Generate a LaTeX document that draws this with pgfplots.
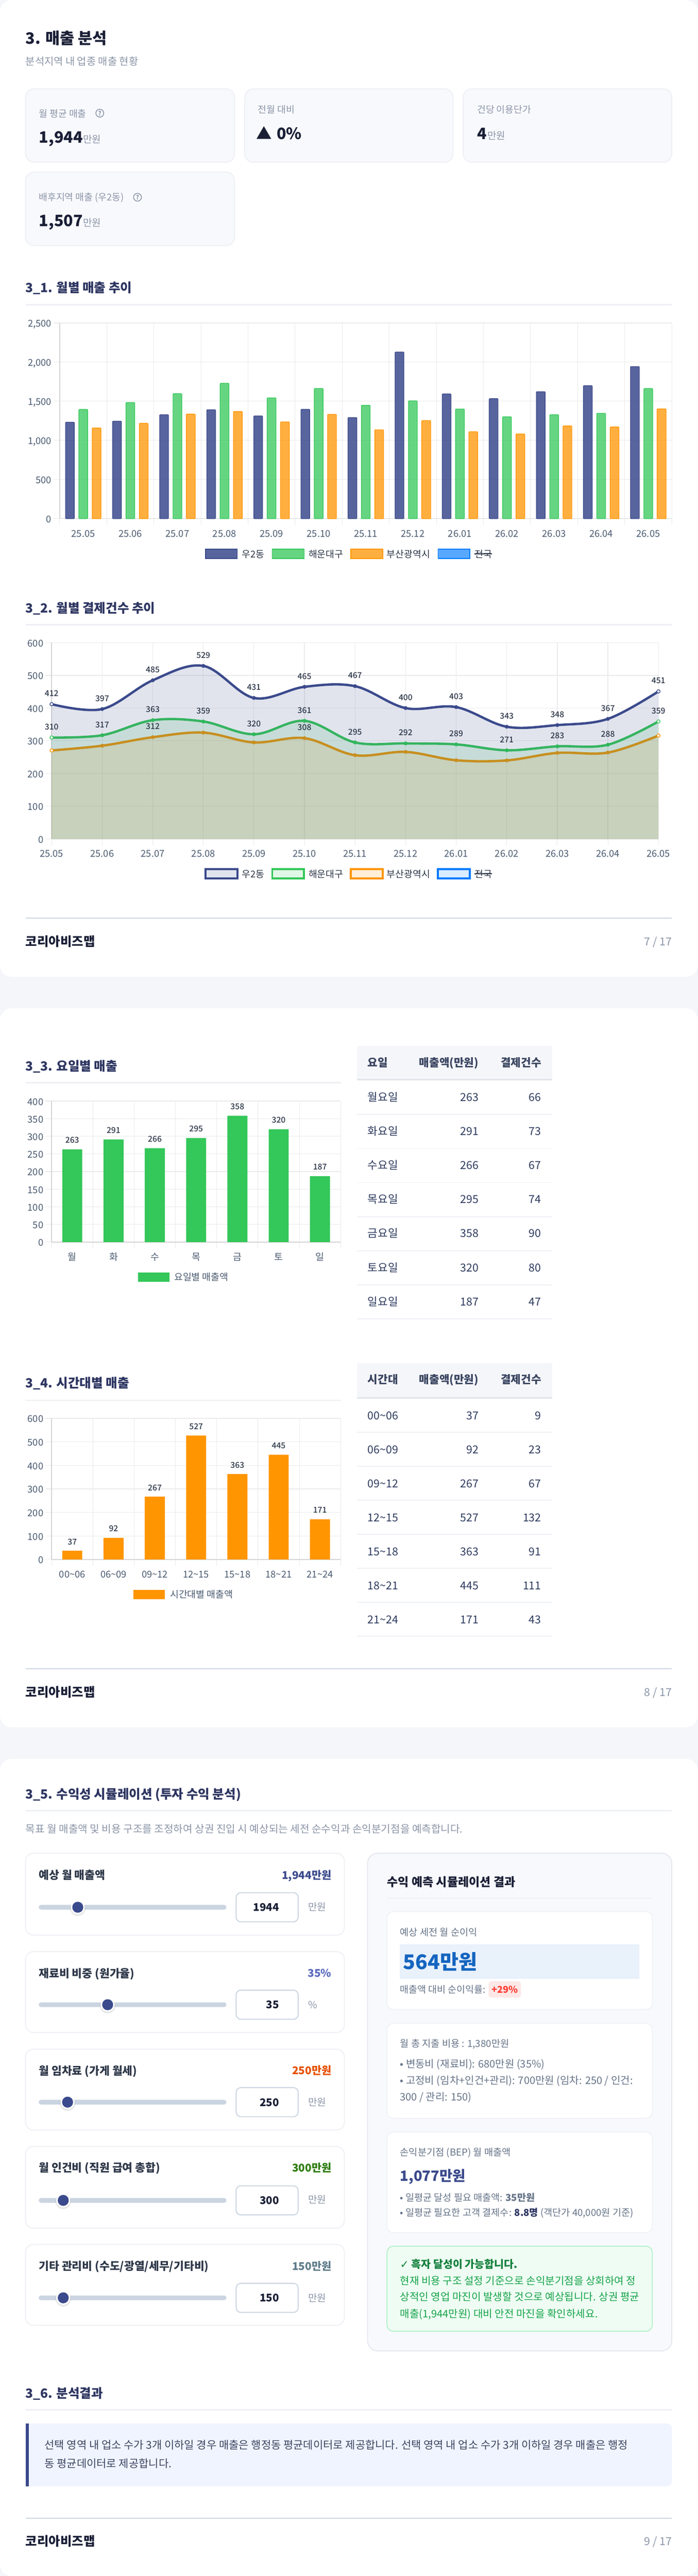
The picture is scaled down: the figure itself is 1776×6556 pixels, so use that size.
\documentclass[border=0pt]{standalone}
\usepackage{fontspec}
\usepackage{pgfplots}
\usepackage{pgfplotstable}
\pgfplotsset{compat=1.18}
\setmainfont{Noto Sans CJK KR}
\newfontfamily\med{Noto Sans CJK KR Medium}
\newfontfamily\dejavu{DejaVu Sans}
\definecolor{pagebg}{HTML}{F5F6FA}
\definecolor{cardbg}{HTML}{F8F9FD}
\definecolor{cardln}{HTML}{EEF0F5}
\definecolor{main}{HTML}{1A1F36}
\definecolor{sect}{HTML}{2D3561}
\definecolor{sub}{HTML}{8B95A7}
\definecolor{tickc}{HTML}{4A5A70}
\definecolor{gridc}{HTML}{EBEBED}
\definecolor{axc}{HTML}{D6D6D8}
\definecolor{dk}{HTML}{3B4A8C}
\definecolor{gr}{HTML}{34C759}
\definecolor{or}{HTML}{FF9500}
\definecolor{bl}{HTML}{007AFF}
\definecolor{grm}{HTML}{30B85C}
\definecolor{orm}{HTML}{C98F20}
\definecolor{lab}{HTML}{2D3748}
\definecolor{footln}{HTML}{CFD6E4}
\definecolor{track}{HTML}{CBD5E1}
\definecolor{rowtx}{HTML}{2D3A5E}
\definecolor{hdr}{HTML}{3A4560}
\definecolor{gray2}{HTML}{667488}
\definecolor{hibox}{HTML}{E9F1FB}
\definecolor{blue5}{HTML}{1565C0}
\definecolor{redbg}{HTML}{FDE8E8}
\definecolor{redt}{HTML}{FF3B30}
\definecolor{grbg}{HTML}{EEFCF3}
\definecolor{grln}{HTML}{A9EFC3}
\definecolor{grtt}{HTML}{15803D}
\definecolor{grtx}{HTML}{16A34A}
\definecolor{notebg}{HTML}{F0F4FF}
\definecolor{notetx}{HTML}{3B4560}
\newcommand\fsz[1]{\pgfmathsetmacro\tmpfs{#1*0.5}\fontsize{\tmpfs}{\tmpfs}\selectfont}
% x, centre y, size (px), colour, text
\newcommand\TL[5]{\node[anchor=base west,inner sep=0pt,text=#4,font=\fsz{#3}] at ({#1},{#2+0.38*#3}) {#5};}
\newcommand\TR[5]{\node[anchor=base east,inner sep=0pt,text=#4,font=\fsz{#3}] at ({#1},{#2+0.38*#3}) {#5};}
\newcommand\TC[5]{\node[anchor=base,inner sep=0pt,text=#4,font=\fsz{#3}] at ({#1},{#2+0.38*#3}) {#5};}
% x1 y1 x2 y2 radius fill draw lw(px)
\newcommand\card[8]{\draw[rounded corners=#5*0.5pt,fill=#6,draw=#7,line width=#8*0.5pt] (#1,#2) rectangle (#3,#4);}
\newcommand\stitle[3]{\TL{64.5}{#1}{32.2}{sect}{\bfseries #3}\draw[cardln,line width=2pt] (65,#2) -- (1710,#2);}
\newcommand\stitleS[3]{\TL{64.5}{#1}{32.2}{sect}{\bfseries #3}\draw[cardln,line width=1.5pt] (65,#2) -- (867.5,#2);}
\newcommand\footer[3]{\draw[footln,line width=1.2pt] (65,#1) -- (1710,#1);\TL{65}{#2}{32}{main}{\bfseries 코리아비즈맵}\TR{1710}{#2}{28}{sub}{#3}}
\newcommand\qicon[2]{\draw[sub,line width=1pt] (#1,#2) circle [radius=5pt];\node[text=sub,font=\fsz{15}\bfseries,inner sep=0pt] at (#1,#2) {?};}
% slider: card top, card bottom, label y, label, colour, value, track y, thumb x, box text
\newcommand\slider[9]{%
 \card{65}{#1}{876.5}{#2}{20}{white}{cardln}{2.5}
 \TL{98.5}{#3}{28.3}{lab}{\bfseries #4}
 \TR{844}{#3}{27.3}{#5}{\bfseries #6}
 \fill[track,rounded corners=3pt] (98.5,#7-6) rectangle (576.5,#7+6);
 \fill[black,opacity=.05] (#8,#7+3) circle [radius=10pt];
 \fill[black,opacity=.06] (#8,#7+2) circle [radius=9.4pt];
 \fill[white] (#8,#7) circle [radius=9pt];
 \fill[dk] (#8,#7) circle [radius=7pt];
 \card{601}{#7-37}{759}{#7+37}{12}{white}{track}{2.5}
 \TR{711}{#7}{27}{main}{\bfseries #9}
}
\pgfplotsset{
 rk/.style={scale only axis,clip=false,
  axis lines*=left,axis line style={-,draw=axc,line width=1pt},
  /pgf/number format/assume math mode=true,/pgf/number format/1000 sep={,},
  scaled y ticks=false,
  tick align=outside,major tick length=8pt,minor tick length=8pt,
  ymajorgrids,grid style={draw=gridc,line width=.8pt},
  ytick style={draw=gridc,line width=.8pt},
  tick label style={font=\fsz{24},text=tickc},
  yticklabel style={anchor=base east,inner sep=0pt,xshift=-2.3pt,yshift=-5.25pt},
 },
 cat/.style={rk,ybar,xmin=0,xmax=#1,enlarge x limits=false,
  xtick style={draw=none},
  minor xtick={0,...,#1},xminorgrids,minor grid style={draw=gridc,line width=.6pt},
  minor x tick style={draw=gridc,line width=.6pt},
  xticklabel style={anchor=base,inner sep=0pt,yshift=-15.3pt},
 },
 nnc/.style={nodes near coords,point meta=y,nodes near coords style={anchor=center,inner sep=0pt,font=\fsz{20.5}\med,text=lab,yshift=#1}},
}
\pgfplotstableread{
x dark green orange
0 412 310 270.5
1 397 317 285
2 485 363 311
3 529 359 325
4 431 320 295
5 465 361 308
6 467 295 256
7 400 292 266
8 403 289 240.5
9 343 271 240
10 348 283 263
11 367 288 264
12 451 359 316
}\cntdata
\pgfplotstableread{
x dark green orange
0.5 1233 1395 1159
1.5 1246 1484 1218
2.5 1328 1597 1336
3.5 1392 1730 1369
4.5 1313 1543 1236
5.5 1397 1663 1333
6.5 1292 1448 1136
7.5 2129 1505 1254
8.5 1594 1400 1111
9.5 1533 1302 1082
10.5 1622 1328 1185
11.5 1699 1346 1172
12.5 1944 1663 1402
}\saledata
\begin{document}
\begin{tikzpicture}[x=0.5pt,y=-0.5pt]
\fill[pagebg] (0,0) rectangle (1776,6556);
\useasboundingbox (0,0) rectangle (1776,6556);
\fill[white,rounded corners=15pt] (0,0) rectangle (1776,2486);
\fill[white,rounded corners=15pt] (0,2566) rectangle (1776,4396);
\fill[white,rounded corners=15pt] (0,4476) rectangle (1776,6556);
%% ---- header & KPI
\TL{65}{97}{40}{main}{\bfseries 3. 매출 분석}
\TL{65}{156}{26}{sub}{분석지역 내 업종 매출 현황}
\card{65}{226}{597}{413}{22}{cardbg}{cardln}{2.5}
\card{623}{226}{1153}{413}{22}{cardbg}{cardln}{2.5}
\card{1179}{226}{1710}{413}{22}{cardbg}{cardln}{2.5}
\card{65}{438}{597}{625}{22}{cardbg}{cardln}{2.5}
\TL{98.5}{289}{24}{sub}{월 평균 매출}\qicon{254}{288}
\node[anchor=base west,inner sep=0pt,text=main,font=\fsz{40}\bfseries] at (99,364) {1,944};
\node[anchor=base west,inner sep=0pt,text=sub,font=\fsz{25}] at (211,364) {만원};
\TL{656}{279}{24}{sub}{전월 대비}
\node[anchor=base west,inner sep=0pt,text=main,font=\fsz{40}\bfseries] at (652,355) {▲};
\node[anchor=base west,inner sep=0pt,text=main,font=\fsz{40}\bfseries] at (704,355) {0\%};
\TL{1214}{279}{24}{sub}{건당 이용단가}
\node[anchor=base west,inner sep=0pt,text=main,font=\fsz{40}\bfseries] at (1214,355) {4};
\node[anchor=base west,inner sep=0pt,text=sub,font=\fsz{25}] at (1240,355) {만원};
\TL{98.5}{501}{24}{sub}{배후지역 매출 (우2동)}\qicon{350}{502}
\node[anchor=base west,inner sep=0pt,text=main,font=\fsz{40}\bfseries] at (99,576) {1,507};
\node[anchor=base west,inner sep=0pt,text=sub,font=\fsz{25}] at (211,576) {만원};
%% ---- 3_1
\stitle{732.5}{775.5}{3\_1. 월별 매출 추이}
\begin{axis}[cat=13,at={(76pt,-660pt)},anchor=south west,width=779pt,height=249pt,
  ymin=0,ymax=2500,ytick={0,500,1000,1500,2000,2500},
  xtick={0.5,1.5,...,12.5},xticklabels={25.05,25.06,25.07,25.08,25.09,25.10,25.11,25.12,26.01,26.02,26.03,26.04,26.05},
  bar width=11.2pt]
\addplot[/pgf/bar shift=-17pt,draw=dk,fill=dk,fill opacity=.85,line width=.8pt,rounded corners=.7pt] table[x=x,y=dark]{\saledata};
\addplot[/pgf/bar shift=0pt,draw=gr,fill=gr,fill opacity=.75,line width=.8pt,rounded corners=.7pt] table[x=x,y=green]{\saledata};
\addplot[/pgf/bar shift=17pt,draw=or,fill=or,fill opacity=.75,line width=.8pt,rounded corners=.7pt] table[x=x,y=orange]{\saledata};
\end{axis}
\newcommand\lgdtxt[1]{%
 \TL{615}{#1}{24}{lab}{우2동}\TL{785}{#1}{24}{lab}{해운대구}\TL{984}{#1}{24}{lab}{부산광역시}\TL{1208}{#1}{24}{lab}{전국}
 \draw[lab,line width=1.2pt] (1208,#1) -- (1252,#1);}
\foreach \xa/\xb/\c/\o in {523/604/dk/.85,693/774/gr/.75,893/974/or/.75,1115/1196/bl/.65}{
 \draw[\c,line width=1pt,fill=\c,fill opacity=\o] (\xa,1398) rectangle (\xb,1421);}
\lgdtxt{1410}
%% ---- 3_2
\stitle{1548}{1590}{3\_2. 월별 결제건수 추이}
\begin{axis}[rk,at={(65.7pt,-1067.5pt)},anchor=south west,width=772.3pt,height=249.7pt,
  xmin=0,xmax=12,ymin=0,ymax=600,ytick={0,100,...,600},xtick={0,...,12},
  xmajorgrids,xtick style={draw=gridc,line width=.6pt},
  xticklabels={25.05,25.06,25.07,25.08,25.09,25.10,25.11,25.12,26.01,26.02,26.03,26.04,26.05},
  xticklabel style={anchor=base,inner sep=0pt,yshift=-15.3pt},
  every axis plot/.append style={tension=.58}]
% areas and lines: last series below, first series on top
\addplot[smooth,draw=none,fill=or,fill opacity=.15] table[x=x,y=orange]{\cntdata} \closedcycle;
\addplot[smooth,or,line width=3pt,mark=*,mark size=2.2pt,mark options={draw=orm,fill=orm,line width=.5pt}] table[x=x,y=orange]{\cntdata};
\addplot[smooth,draw=none,fill=gr,fill opacity=.15] table[x=x,y=green]{\cntdata} \closedcycle;
\addplot[smooth,gr,line width=3pt,mark=*,mark size=2.2pt,mark options={draw=grm,fill=grm,line width=.5pt}] table[x=x,y=green]{\cntdata};
\addplot[smooth,draw=none,fill=dk,fill opacity=.15] table[x=x,y=dark]{\cntdata} \closedcycle;
\addplot[smooth,dk,line width=3pt,mark=*,mark size=2.2pt,mark options={draw=dk,fill=dk,line width=.5pt}] table[x=x,y=dark]{\cntdata};
% hollow end points
\addplot[only marks,mark=*,mark size=2.1pt,mark options={draw=or,fill=white,line width=.8pt}] coordinates {(0,270.5)(12,316)};
\addplot[only marks,mark=*,mark size=2.1pt,mark options={draw=gr,fill=white,line width=.8pt}] coordinates {(0,310)(12,359)};
\addplot[only marks,mark=*,mark size=2.1pt,mark options={draw=dk,fill=white,line width=.8pt}] coordinates {(0,412)(12,451)};
% data labels
\addplot[draw=none,no marks,nnc=13.5pt] table[x=x,y=dark]{\cntdata};
\addplot[draw=none,no marks,nnc=13.5pt] table[x=x,y=green]{\cntdata};
\addplot[draw=none,no marks,nnc=13.5pt] coordinates {(2,312)(5,308)};
\end{axis}
\foreach \xa/\xb/\c in {523/604/dk,693/774/gr,893/974/or,1115/1196/bl}{
 \draw[\c,line width=2.5pt,fill=\c,fill opacity=.15] (\xa,2212) rectangle (\xb,2236);}
\lgdtxt{2224}
\footer{2336.5}{2396}{7 / 17}
%% ---- 3_3
\stitleS{2712.5}{2755.5}{3\_3. 요일별 매출}
\begin{axis}[cat=7,at={(65.7pt,-1580.5pt)},anchor=south west,width=367.8pt,height=179.5pt,
  ymin=0,ymax=400,ytick={0,50,...,400},
  xtick={0.5,1.5,...,6.5},xticklabels={월,화,수,목,금,토,일},bar width=25.5pt]
\addplot[draw=none,fill=gr,nnc=11.5pt] coordinates {(0.5,263)(1.5,291)(2.5,266)(3.5,295)(4.5,358)(5.5,320)(6.5,187)};
\end{axis}
\fill[gr] (351,3238) rectangle (431.5,3262);
\TL{443}{3250}{24}{tickc}{요일별 매출액}
\fill[pagebg] (908,2662) rectangle (1405.5,2746);
\fill[cardln!60!track] (908,2746) rectangle (1405.5,2750);
\TL{935.5}{2704}{28}{hdr}{\bfseries 요일}
\TR{1218.6}{2704}{28}{hdr}{\bfseries 매출액(만원)}
\TR{1378}{2704}{28}{hdr}{\bfseries 결제건수}
\foreach \a/\b/\c [count=\i from 0] in {월요일/263/66,화요일/291/73,수요일/266/67,목요일/295/74,금요일/358/90,토요일/320/80,일요일/187/47}{
 \pgfmathsetmacro\yy{2792+86.7*\i}
 \pgfmathsetmacro\rr{2836.5+86.7*\i}
 \TL{935.5}{\yy}{28}{rowtx}{\a}
 \TR{1218.6}{\yy}{28}{rowtx}{\b}
 \TR{1378}{\yy}{28}{rowtx}{\c}
 \draw[cardln,line width=1.2pt] (908,\rr) -- (1405.5,\rr);
}
%% ---- 3_4
\stitleS{3520}{3564}{3\_4. 시간대별 매출}
\begin{axis}[cat=7,at={(65.7pt,-1984.4pt)},anchor=south west,width=367.8pt,height=179.6pt,
  ymin=0,ymax=600,ytick={0,100,...,600},
  xtick={0.5,1.5,...,6.5},
  xticklabels={00\textasciitilde06,06\textasciitilde09,09\textasciitilde12,12\textasciitilde15,15\textasciitilde18,18\textasciitilde21,21\textasciitilde24},bar width=25.5pt]
\addplot[draw=none,fill=or,nnc=11.5pt] coordinates {(0.5,37)(1.5,92)(2.5,267)(3.5,527)(4.5,363)(5.5,445)(6.5,171)};
\end{axis}
\fill[or] (340,4046) rectangle (420,4070.5);
\TL{432.6}{4058}{24}{tickc}{시간대별 매출액}
\fill[pagebg] (908,3470) rectangle (1405.5,3556);
\fill[cardln!60!track] (908,3556) rectangle (1405.5,3560);
\TL{935.5}{3511}{28}{hdr}{\bfseries 시간대}
\TR{1218.6}{3511}{28}{hdr}{\bfseries 매출액(만원)}
\TR{1378}{3511}{28}{hdr}{\bfseries 결제건수}
\foreach \a/\b/\c [count=\i from 0] in {00\textasciitilde06/37/9,06\textasciitilde09/92/23,09\textasciitilde12/267/67,12\textasciitilde15/527/132,15\textasciitilde18/363/91,18\textasciitilde21/445/111,21\textasciitilde24/171/43}{
 \pgfmathsetmacro\yy{3602.5+86.5*\i}
 \pgfmathsetmacro\rr{3645+86.5*\i}
 \TL{935.5}{\yy}{28}{rowtx}{\a}
 \TR{1218.6}{\yy}{28}{rowtx}{\b}
 \TR{1378}{\yy}{28}{rowtx}{\c}
 \draw[cardln,line width=1pt] (908,\rr) -- (1405.5,\rr);
}
\footer{4247}{4306}{8 / 17}
%% ---- 3_5
\stitle{4566}{4608}{3\_5. 수익성 시뮬레이션 (투자 수익 분석)}
\TL{65}{4654}{26.46}{sub}{목표 월 매출액 및 비용 구조를 조정하여 상권 진입 시 예상되는 세전 순수익과 손익분기점을 예측합니다.}
\definecolor{vb}{HTML}{5C6BC0}\definecolor{vo}{HTML}{E65100}\definecolor{vg}{HTML}{2E7D10}\definecolor{vs}{HTML}{607D8B}
\slider{4716.5}{4925}{4772}{예상 월 매출액}{dk}{1,944만원}{4854}{198}{1944}
\TL{784}{4852.6}{25}{sub}{만원}
\slider{4967}{5172.6}{5021.8}{재료비 비중 (원가율)}{vb}{35\%}{5102}{274}{35}
\TL{784}{5102}{25}{sub}{\%}
\slider{5215}{5421}{5269.5}{월 임차료 (가게 월세)}{vo}{250만원}{5350}{172}{250}
\TL{784}{5350}{25}{sub}{만원}
\slider{5462.7}{5670.8}{5517}{월 인건비 (직원 급여 총합)}{vg}{300만원}{5600}{161}{300}
\TL{784}{5598}{25}{sub}{만원}
\slider{5712}{5918}{5767.4}{기타 관리비 (수도/광열/세무/기타비)}{vs}{150만원}{5848}{161}{150}
\TL{784}{5848}{25}{sub}{만원}
% right panel
\card{935.5}{4716.5}{1710}{5983}{26}{cardbg}{cardln!70!track}{2.5}
\TL{985}{4788.8}{30.2}{main}{\bfseries 수익 예측 시뮬레이션 결과}
\draw[cardln!70!track,line width=1.2pt] (985,4831) -- (1660.5,4831);
\card{985}{4865}{1660.5}{5114}{16}{white}{cardln}{2}
\TL{1018}{4917}{24.5}{gray2}{예상 세전 월 순이익}
\fill[hibox] (1018,4948) rectangle (1627.5,5036.5);
\TL{1026}{4993}{51.4}{blue5}{\bfseries 564만원}
\TL{1018}{5063}{24.2}{gray2}{매출액 대비 순이익률:}
\fill[redbg,rounded corners=4pt] (1243.5,5042) rectangle (1326,5084);
\TC{1284.7}{5063}{24}{redt}{\bfseries +29\%}
\card{985}{5149.5}{1660.5}{5391}{16}{white}{cardln}{2}
\TL{1018}{5201}{24.5}{gray2}{월 총 지출 비용 : 1,380만원}
\TL{1018}{5252.6}{26.3}{gray2}{• 변동비 (재료비): 680만원 (35\%)}
\TL{1018}{5294.7}{26.3}{gray2}{• 고정비 (임차+인건+관리): 700만원 (임차: 250 / 인건:}
\TL{1018}{5336.8}{26.3}{gray2}{300 / 관리: 150)}
\card{985}{5426}{1660.5}{5682}{16}{white}{cardln}{2}
\TL{1018}{5476.8}{24.5}{gray2}{손익분기점 (BEP) 월 매출액}
\TL{1018}{5537.5}{36}{dk}{\bfseries 1,077만원}
\TL{1018}{5593}{24.4}{gray2}{• 일평균 달성 필요 매출액: \textbf{35만원}}
\TL{1018}{5631}{24.4}{gray2}{• 일평균 필요한 고객 결제수: \textcolor{sect}{\textbf{8.8명}} (객단가 40,000원 기준)}
\card{985}{5716.6}{1660.5}{5933}{16}{grbg}{grln}{2}
\TL{1018}{5762.5}{27}{grtt}{\bfseries {\dejavu ✓} 흑자 달성이 가능합니다.}
\TL{1018}{5804}{26.4}{grtx}{현재 비용 구조 설정 기준으로 손익분기점을 상회하여 정}
\TL{1018}{5845.7}{26.4}{grtx}{상적인 영업 마진이 발생할 것으로 예상됩니다. 상권 평균}
\TL{1018}{5888}{26.4}{grtx}{매출(1,944만원) 대비 안전 마진을 확인하세요.}
%% ---- 3_6
\stitle{6090.5}{6133.5}{3\_6. 분석결과}
\fill[notebg,rounded corners=6pt] (65,6168) rectangle (1710,6327.5);
\fill[notebg] (65,6168) rectangle (90,6327.5);
\fill[dk] (65,6168) rectangle (73,6327.5);
\TL{113}{6221.7}{27.5}{notetx}{선택 영역 내 업소 수가 3개 이하일 경우 매출은 행정동 평균데이터로 제공합니다. 선택 영역 내 업소 수가 3개 이하일 경우 매출은 행정}
\TL{113}{6269}{27.5}{notetx}{동 평균데이터로 제공합니다.}
\footer{6408.6}{6467}{9 / 17}
\end{tikzpicture}
\end{document}
